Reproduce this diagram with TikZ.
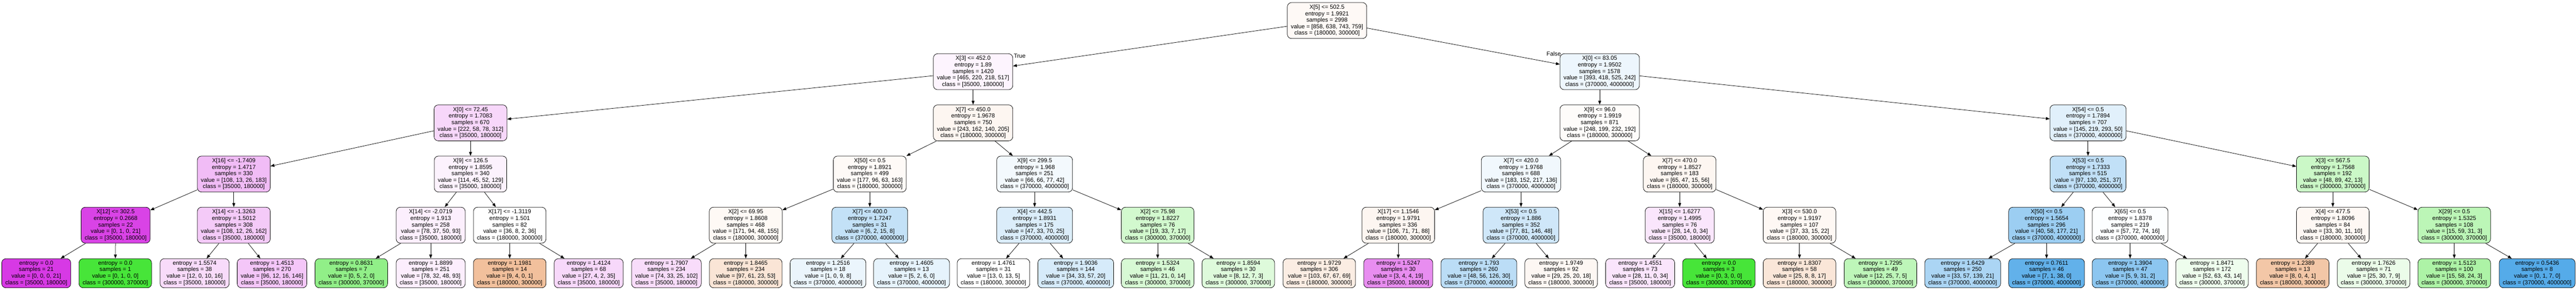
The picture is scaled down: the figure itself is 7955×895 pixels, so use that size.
\documentclass[tikz,border=0pt]{standalone}
\usepackage{fontspec}
\usetikzlibrary{arrows.meta}
\newfontfamily\lsans{Liberation Sans}
\newcommand\dtfont{\lsans\fontsize{17.95}{20}\selectfont}
\definecolor{c0}{RGB}{229,129,57}
\definecolor{c1}{RGB}{71,229,57}
\definecolor{c2}{RGB}{57,157,229}
\definecolor{c3}{RGB}{215,57,229}
\tikzset{
  tn/.style={draw=black, line width=1.2pt, rounded corners=13pt, align=center,
    inner xsep=11pt, inner ysep=0pt, font=\dtfont, minimum height=111pt},
  lf/.style={tn, minimum height=90pt},
  edgearrow/.style={-{Triangle[length=12pt,width=9pt]}, line width=1.2pt},
  elabel/.style={font=\dtfont, inner sep=0pt}
}
\begin{document}
\begin{tikzpicture}[x=1pt,y=1pt]
\useasboundingbox (0,0) rectangle (7955,895);
% root
\node[tn, fill=c0!4.4!white] (r) at (4098,831.5) {X[5] <= 502.5\\entropy = 1.9921\\samples = 2998\\value = [858, 638, 743, 759]\\class = (180000, 300000]};
% level 1
\node[tn, fill=c3!5.4!white] (a) at (3005,673.5) {X[3] <= 452.0\\entropy = 1.89\\samples = 1420\\value = [465, 220, 218, 517]\\class = [35000, 180000]};
\node[tn, fill=c2!9.2!white] (b) at (4940,673.5) {X[0] <= 83.05\\entropy = 1.9502\\samples = 1578\\value = [393, 418, 525, 242]\\class = (370000, 4000000]};
% level 2
\node[tn, fill=c3!20.1!white] (c1) at (1453,515.5) {X[0] <= 72.45\\entropy = 1.7083\\samples = 670\\value = [222, 58, 78, 312]\\class = [35000, 180000]};
\node[tn, fill=c0!7!white] (c2) at (3005,515.5) {X[7] <= 450.0\\entropy = 1.9678\\samples = 750\\value = [243, 162, 140, 205]\\class = (180000, 300000]};
\node[tn, fill=c0!2.5!white] (c3) at (4940,515.5) {X[9] <= 96.0\\entropy = 1.9919\\samples = 871\\value = [248, 199, 232, 192]\\class = (180000, 300000]};
\node[tn, fill=c2!15.2!white] (c4) at (6448,515.5) {X[54] <= 0.5\\entropy = 1.7894\\samples = 707\\value = [145, 219, 293, 50]\\class = (370000, 4000000]};
% level 3
\node[tn, fill=c3!33.8!white] (d1) at (722,357.5) {X[16] <= -1.7409\\entropy = 1.4717\\samples = 330\\value = [108, 13, 26, 183]\\class = [35000, 180000]};
\node[tn, fill=c3!6.6!white] (d2) at (1453,357.5) {X[9] <= 126.5\\entropy = 1.8595\\samples = 340\\value = [114, 45, 52, 129]\\class = [35000, 180000]};
\node[tn, fill=c0!4.2!white] (d3) at (2686,357.5) {X[50] <= 0.5\\entropy = 1.8921\\samples = 499\\value = [177, 96, 63, 163]\\class = (180000, 300000]};
\node[tn, fill=c2!5.9!white] (d4) at (3195,357.5) {X[9] <= 299.5\\entropy = 1.968\\samples = 251\\value = [66, 66, 77, 42]\\class = (370000, 4000000]};
\node[tn, fill=c2!7.2!white] (d5) at (4697,357.5) {X[7] <= 420.0\\entropy = 1.9768\\samples = 688\\value = [183, 152, 217, 136]\\class = (370000, 4000000]};
\node[tn, fill=c0!7.1!white] (d6) at (5187,357.5) {X[7] <= 470.0\\entropy = 1.8527\\samples = 183\\value = [65, 47, 15, 56]\\class = (180000, 300000]};
\node[tn, fill=c2!31.4!white] (d7) at (6448,357.5) {X[53] <= 0.5\\entropy = 1.7333\\samples = 515\\value = [97, 130, 251, 37]\\class = (370000, 4000000]};
\node[tn, fill=c1!28.5!white] (d8) at (7204,357.5) {X[3] <= 567.5\\entropy = 1.7568\\samples = 192\\value = [48, 89, 42, 13]\\class = (300000, 370000]};
% level 4
\node[tn, fill=c3!95.2!white] (e1) at (357,199.5) {X[12] <= 302.5\\entropy = 0.2668\\samples = 22\\value = [0, 1, 0, 21]\\class = [35000, 180000]};
\node[tn, fill=c3!27!white] (e2) at (722,199.5) {X[14] <= -1.3263\\entropy = 1.5012\\samples = 308\\value = [108, 12, 26, 162]\\class = [35000, 180000]};
\node[tn, fill=c3!8.3!white] (e3) at (1330,199.5) {X[14] <= -2.0719\\entropy = 1.913\\samples = 258\\value = [78, 37, 50, 93]\\class = [35000, 180000]};
\node[tn, fill=white] (e4) at (1574,199.5) {X[17] <= -1.3119\\entropy = 1.501\\samples = 82\\value = [36, 8, 2, 36]\\class = (180000, 300000]};
\node[tn, fill=c0!5.1!white] (e5) at (2303,199.5) {X[2] <= 69.95\\entropy = 1.8608\\samples = 468\\value = [171, 94, 48, 155]\\class = (180000, 300000]};
\node[tn, fill=c2!30.4!white] (e6) at (2686,199.5) {X[7] <= 400.0\\entropy = 1.7247\\samples = 31\\value = [6, 2, 15, 8]\\class = (370000, 4000000]};
\node[tn, fill=c2!18!white] (e7) at (3195,199.5) {X[4] <= 442.5\\entropy = 1.8931\\samples = 175\\value = [47, 33, 70, 25]\\class = (370000, 4000000]};
\node[tn, fill=c1!24.6!white] (e8) at (3575,199.5) {X[2] <= 75.98\\entropy = 1.8227\\samples = 76\\value = [19, 33, 7, 17]\\class = (300000, 370000]};
\node[tn, fill=c0!7.3!white] (e9) at (4318,199.5) {X[17] <= 1.1546\\entropy = 1.9791\\samples = 336\\value = [106, 71, 71, 88]\\class = (180000, 300000]};
\node[tn, fill=c2!24!white] (e10) at (4697,199.5) {X[53] <= 0.5\\entropy = 1.886\\samples = 352\\value = [77, 81, 146, 48]\\class = (370000, 4000000]};
\node[tn, fill=c3!12.5!white] (e11) at (5187,199.5) {X[15] <= 1.6277\\entropy = 1.4995\\samples = 76\\value = [28, 14, 0, 34]\\class = [35000, 180000]};
\node[tn, fill=c0!5.4!white] (e12) at (5557,199.5) {X[3] <= 530.0\\entropy = 1.9197\\samples = 107\\value = [37, 33, 15, 22]\\class = (180000, 300000]};
\node[tn, fill=c2!50!white] (e13) at (6320,199.5) {X[50] <= 0.5\\entropy = 1.5654\\samples = 296\\value = [40, 58, 177, 21]\\class = (370000, 4000000]};
\node[tn, fill=c2!1.4!white] (e14) at (6578,199.5) {X[65] <= 0.5\\entropy = 1.8378\\samples = 219\\value = [57, 72, 74, 16]\\class = (370000, 4000000]};
\node[tn, fill=c0!5.6!white] (e15) at (7204,199.5) {X[4] <= 477.5\\entropy = 1.8096\\samples = 84\\value = [33, 30, 11, 10]\\class = (180000, 300000]};
\node[tn, fill=c1!36.4!white] (e16) at (7579,199.5) {X[29] <= 0.5\\entropy = 1.5325\\samples = 108\\value = [15, 59, 31, 3]\\class = (300000, 370000]};
% level 5 (leaves)
\node[lf, fill=c3] (f1) at (112,51) {entropy = 0.0\\samples = 21\\value = [0, 0, 0, 21]\\class = [35000, 180000]};
\node[lf, fill=c1] (f2) at (356,51) {entropy = 0.0\\samples = 1\\value = [0, 1, 0, 0]\\class = (300000, 370000]};
\node[lf, fill=c3!18.2!white] (f3) at (601,51) {entropy = 1.5574\\samples = 38\\value = [12, 0, 10, 16]\\class = [35000, 180000]};
\node[lf, fill=c3!28.7!white] (f4) at (840,51) {entropy = 1.4513\\samples = 270\\value = [96, 12, 16, 146]\\class = [35000, 180000]};
\node[lf, fill=c1!60!white] (f5) at (1085,51) {entropy = 0.8631\\samples = 7\\value = [0, 5, 2, 0]\\class = (300000, 370000]};
\node[lf, fill=c3!8.7!white] (f6) at (1330,51) {entropy = 1.8899\\samples = 251\\value = [78, 32, 48, 93]\\class = [35000, 180000]};
\node[lf, fill=c0!50!white] (f7) at (1574,51) {entropy = 1.1981\\samples = 14\\value = [9, 4, 0, 1]\\class = (180000, 300000]};
\node[lf, fill=c3!19.5!white] (f8) at (1818,51) {entropy = 1.4124\\samples = 68\\value = [27, 4, 2, 35]\\class = [35000, 180000]};
\node[lf, fill=c3!17.5!white] (f9) at (2058,51) {entropy = 1.7907\\samples = 234\\value = [74, 33, 25, 102]\\class = [35000, 180000]};
\node[lf, fill=c0!20.8!white] (f10) at (2303,51) {entropy = 1.8465\\samples = 234\\value = [97, 61, 23, 53]\\class = (180000, 300000]};
\node[lf, fill=c2!10!white] (f11) at (2557,51) {entropy = 1.2516\\samples = 18\\value = [1, 0, 9, 8]\\class = (370000, 4000000]};
\node[lf, fill=c2!12.5!white] (f12) at (2815,51) {entropy = 1.4605\\samples = 13\\value = [5, 2, 6, 0]\\class = (370000, 4000000]};
\node[lf, fill=white] (f13) at (3068,51) {entropy = 1.4761\\samples = 31\\value = [13, 0, 13, 5]\\class = (180000, 300000]};
\node[lf, fill=c2!20.9!white] (f14) at (3322,51) {entropy = 1.9036\\samples = 144\\value = [34, 33, 57, 20]\\class = (370000, 4000000]};
\node[lf, fill=c1!21.9!white] (f15) at (3575,51) {entropy = 1.5324\\samples = 46\\value = [11, 21, 0, 14]\\class = (300000, 370000]};
\node[lf, fill=c1!18.2!white] (f16) at (3824,51) {entropy = 1.8594\\samples = 30\\value = [8, 12, 7, 3]\\class = (300000, 370000]};
\node[lf, fill=c0!14.3!white] (f17) at (4074,51) {entropy = 1.9729\\samples = 306\\value = [103, 67, 67, 69]\\class = (180000, 300000]};
\node[lf, fill=c3!57.7!white] (f18) at (4318,51) {entropy = 1.5247\\samples = 30\\value = [3, 4, 4, 19]\\class = [35000, 180000]};
\node[lf, fill=c2!34.3!white] (f19) at (4567,51) {entropy = 1.793\\samples = 260\\value = [48, 56, 126, 30]\\class = (370000, 4000000]};
\node[lf, fill=c0!6!white] (f20) at (4821,51) {entropy = 1.9749\\samples = 92\\value = [29, 25, 20, 18]\\class = (180000, 300000]};
\node[lf, fill=c3!13.3!white] (f21) at (5065,51) {entropy = 1.4551\\samples = 73\\value = [28, 11, 0, 34]\\class = [35000, 180000]};
\node[lf, fill=c1] (f22) at (5308,51) {entropy = 0.0\\samples = 3\\value = [0, 3, 0, 0]\\class = (300000, 370000]};
\node[lf, fill=c0!19.5!white] (f23) at (5557,51) {entropy = 1.8307\\samples = 58\\value = [25, 8, 8, 17]\\class = (180000, 300000]};
\node[lf, fill=c1!35.1!white] (f24) at (5807,51) {entropy = 1.7295\\samples = 49\\value = [12, 25, 7, 5]\\class = (300000, 370000]};
\node[lf, fill=c2!42.5!white] (f25) at (6061,51) {entropy = 1.6429\\samples = 250\\value = [33, 57, 139, 21]\\class = (370000, 4000000]};
\node[lf, fill=c2!79.5!white] (f26) at (6320,51) {entropy = 0.7611\\samples = 46\\value = [7, 1, 38, 0]\\class = (370000, 4000000]};
\node[lf, fill=c2!57.9!white] (f27) at (6578,51) {entropy = 1.3904\\samples = 47\\value = [5, 9, 31, 2]\\class = (370000, 4000000]};
\node[lf, fill=c1!9.2!white] (f28) at (6831,51) {entropy = 1.8471\\samples = 172\\value = [52, 63, 43, 14]\\class = (300000, 370000]};
\node[lf, fill=c0!44.4!white] (f29) at (7080,51) {entropy = 1.2389\\samples = 13\\value = [8, 0, 4, 1]\\class = (180000, 300000]};
\node[lf, fill=c1!10.9!white] (f30) at (7330,51) {entropy = 1.7626\\samples = 71\\value = [25, 30, 7, 9]\\class = (300000, 370000]};
\node[lf, fill=c1!44.7!white] (f31) at (7579,51) {entropy = 1.5123\\samples = 100\\value = [15, 58, 24, 3]\\class = (300000, 370000]};
\node[lf, fill=c2!85.7!white] (f32) at (7835,51) {entropy = 0.5436\\samples = 8\\value = [0, 1, 7, 0]\\class = (370000, 4000000]};
% edges
\draw[edgearrow] (r) -- (a);
\draw[edgearrow] (r) -- (b);
\draw[edgearrow] (a) -- (c1);
\draw[edgearrow] (a) -- (c2);
\draw[edgearrow] (b) -- (c3);
\draw[edgearrow] (b) -- (c4);
\foreach \p/\l/\rr in {c1/d1/d2, c2/d3/d4, c3/d5/d6, c4/d7/d8,
  d1/e1/e2, d2/e3/e4, d3/e5/e6, d4/e7/e8, d5/e9/e10, d6/e11/e12, d7/e13/e14, d8/e15/e16,
  e1/f1/f2, e2/f3/f4, e3/f5/f6, e4/f7/f8, e5/f9/f10, e6/f11/f12, e7/f13/f14, e8/f15/f16,
  e9/f17/f18, e10/f19/f20, e11/f21/f22, e12/f23/f24, e13/f25/f26, e14/f27/f28, e15/f29/f30, e16/f31/f32}
  {\draw[edgearrow] (\p) -- (\l); \draw[edgearrow] (\p) -- (\rr);}
% edge labels
\node[elabel] (ltrue) at (3149,722) {True};
\node[elabel] (lfalse) at (4798,728) {False};
\end{tikzpicture}
\end{document}
